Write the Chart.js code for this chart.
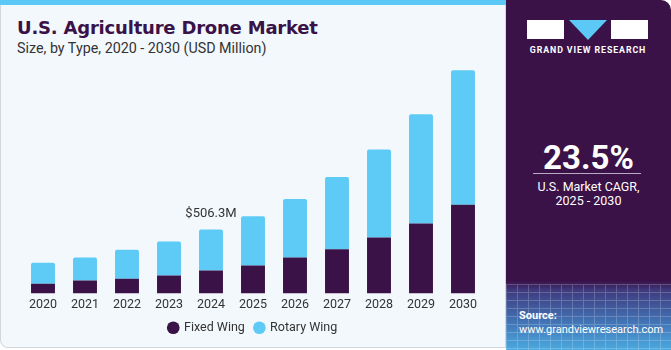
<!DOCTYPE html>
<html>
<head>
<meta charset="utf-8">
<script src="https://cdn.jsdelivr.net/npm/chart.js@4"></script>
<style>
  html, body { margin: 0; padding: 0; }
  body { width: 671px; height: 350px; background: #ffffff; position: relative; overflow: hidden; font-family: "Roboto", "Liberation Sans", sans-serif; }
  #panneau-gauche { position: absolute; left: 0; top: 0; width: 504px; height: 347px; background: #f3f8fc; border: 1px solid #d3d7db; border-top: none; border-radius: 0 0 0 8px; }
  #bande { position: absolute; left: 0; top: 0; width: 506px; height: 5px; background: #5bc8f5; }
  #titre { position: absolute; left: 17px; top: 17px; font-family: "DejaVu Sans", sans-serif; font-size: 18px; font-weight: 700; color: #3a1248; letter-spacing: -0.2px; }
  #sous-titre { position: absolute; left: 17px; top: 40px; font-size: 14.3px; color: #333; }
  #zone-graphique { position: absolute; left: 0; top: 0; width: 506px; height: 350px; }
  #panneau-droit { position: absolute; left: 506px; top: 0; width: 165px; height: 350px; border-radius: 0 10px 0 0;
    background: linear-gradient(to bottom, #3a1248 0px, #3a1248 281px, #3e3a7e 290px, #4270b2 320px, #4ba9df 350px); overflow: hidden; }
  #grille { position: absolute; left: 0; top: 284px; width: 165px; height: 66px; opacity: 0.2;
    background-image: repeating-linear-gradient(to right, #ffffff 0 1px, transparent 1px 11px), repeating-linear-gradient(to bottom, #ffffff 0 1px, transparent 1px 8px); }
  .logo-bloc { position: absolute; top: 20px; height: 19px; background: #ffffff; }
  #logo-tri { position: absolute; left: 63px; top: 20px; width: 0; height: 0; border-left: 19px solid transparent; border-right: 19px solid transparent; border-top: 20px solid #5bc8f5; }
  #logo-texte { position: absolute; left: 21px; top: 45px; width: 122px; text-align: center; font-size: 8.8px; font-weight: 700; color: #ffffff; letter-spacing: 0.9px; white-space: nowrap; }
  #cagr { position: absolute; left: 0; top: 138px; width: 165px; text-align: center; font-size: 33px; font-weight: 700; color: #ffffff; }
  #trait { position: absolute; left: 27px; top: 173px; width: 108px; height: 1px; background: #b9a9c4; }
  #cagr-texte { position: absolute; left: 0; top: 180px; width: 165px; text-align: center; font-size: 12.5px; color: #ffffff; line-height: 14px; }
  #source { position: absolute; left: 13px; top: 309px; font-size: 11px; color: #ffffff; line-height: 14px; }
</style>
</head>
<body>
<div id="panneau-gauche"></div>
<div id="bande"></div>
<div id="titre">U.S. Agriculture Drone Market</div>
<div id="sous-titre">Size, by Type, 2020 - 2030 (USD Million)</div>
<div id="zone-graphique"><canvas id="graphique" width="506" height="350"></canvas></div>

<div id="panneau-droit">
  <div id="grille"></div>
  <div class="logo-bloc" style="left:21px; width:37px;"></div>
  <div id="logo-tri"></div>
  <div class="logo-bloc" style="left:105px; width:37px;"></div>
  <div id="logo-texte">GRAND VIEW RESEARCH</div>
  <div id="cagr">23.5%</div>
  <div id="trait"></div>
  <div id="cagr-texte">U.S. Market CAGR,<br>2025 - 2030</div>
  <div id="source"><b>Source:</b><br>www.grandviewresearch.com</div>
</div>

<script>
// ==========================================================
// DONNEES (USD Million)
// ==========================================================
const annees = ["2020", "2021", "2022", "2023", "2024", "2025", "2026", "2027", "2028", "2029", "2030"];
const voilureFixe = [77, 103, 116, 142, 182, 221, 285, 350, 443, 554, 702];
const voilureTournante = [166, 182, 230, 269, 324, 390, 461, 570, 694, 862, 1062];
const anneeAnnotee = "2024";
const texteAnnotation = "$506.3M";

const couleurFixe = "#3a1248";
const couleurTournante = "#5ecbf7";
const policeTexte = '"Roboto", "Liberation Sans", sans-serif';

// Etiquette au-dessus de la barre 2024
const pluginAnnotation = {
    id: 'annotation',
    afterDatasetsDraw(chart) {
        const ctx = chart.ctx;
        const idx = annees.indexOf(anneeAnnotee);
        const barre = chart.getDatasetMeta(1).data[idx];
        ctx.save();
        ctx.font = '13px ' + policeTexte;
        ctx.fillStyle = '#333333';
        ctx.textAlign = 'center';
        ctx.textBaseline = 'middle';
        ctx.fillText(texteAnnotation, barre.x, barre.y - 16);
        ctx.restore();
    }
};

new Chart(document.getElementById('graphique').getContext('2d'), {
    type: 'bar',
    data: {
        labels: annees,
        datasets: [
            { label: 'Fixed Wing', data: voilureFixe, backgroundColor: couleurFixe, borderWidth: 0 },
            { label: 'Rotary Wing', data: voilureTournante, backgroundColor: couleurTournante, borderWidth: 0,
              borderRadius: { topLeft: 2, topRight: 2 }, borderSkipped: 'bottom' }
        ]
    },
    options: {
        responsive: false,
        animation: false,
        layout: { padding: { left: 22, right: 22, top: 60, bottom: 6 } },
        datasets: { bar: { categoryPercentage: 1, barPercentage: 0.57 } },
        plugins: {
            legend: {
                position: 'bottom',
                labels: {
                    usePointStyle: true, pointStyle: 'circle', boxWidth: 9, boxHeight: 9,
                    padding: 10, color: '#333333',
                    font: { size: 12.5, family: policeTexte }
                }
            },
            tooltip: { enabled: false }
        },
        scales: {
            x: {
                stacked: true,
                grid: { display: false, drawTicks: false },
                border: { display: false },
                ticks: { color: '#333333', padding: 4, font: { size: 12.5, family: policeTexte } },
                afterFit(scale) { scale.height = 18; }
            },
            y: {
                stacked: true, display: false, min: 0, max: 1845
            }
        }
    },
    plugins: [pluginAnnotation]
});
</script>
</body>
</html>
